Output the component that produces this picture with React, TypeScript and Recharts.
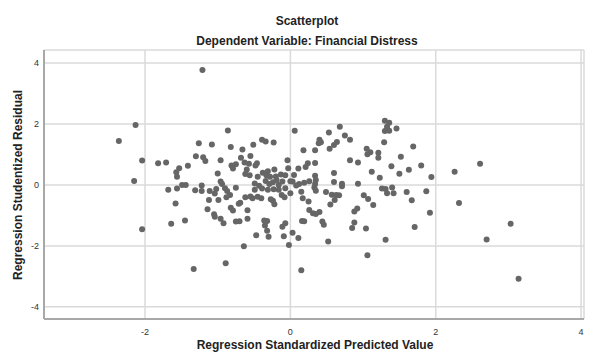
import { ScatterChart, Scatter, XAxis, YAxis, CartesianGrid } from "recharts";

const xTicks = [-2, 0, 2, 4];
const yTicks = [-4, -2, 0, 2, 4];

// cases with negative predicted values (left half of the cloud)
const predictedLeft = [
  -0.86, -1.26, -1.08, -0.82, -0.51, -0.39, -0.34, -0.23, -0.66, -1.3,
  -1.2, -1.17, -0.96, -0.68, -0.55, -2.04, -1.82, -1.71, -1.41, -1.53,
  -1.57, -1.56, -0.81, -0.75, -0.79, -0.63, -0.57, -0.46, -0.48, -0.6,
  -0.62, -0.56, -1.0, -0.04, -0.03, -0.38, -0.31, -0.22, -0.33, -0.28,
  -0.45, -0.2, -0.13, -0.07, -0.96, -0.94, -1.49, -1.44, -1.56, -1.68,
  -1.31, -1.22, -1.22, -1.11, -1.02, -0.9, -0.87, -0.75, -0.49, -0.43,
  -0.34, -0.29, -0.24, -0.19, -0.16, -0.11, 0.0, -0.49, -0.39, -0.31,
  -0.23, -0.16, -0.07, -0.08, -0.12, -0.83, -0.88, -1.04, -1.12, -0.99,
  -1.58, -0.69, -0.71, -0.62, -0.55, -0.45, -0.52, -0.4, -0.27, -0.22,
  -0.24, -0.82, -0.79, -1.14, -1.05, -1.04, -0.59, -0.96, -0.92, -0.75,
  -0.7, -0.59, -1.64, -1.45, -0.36, -0.32, -0.35, -0.32, -0.07, -0.11,
  -0.47, -0.3, -0.09, -0.02, -0.64, -2.04,
];
const residualLeft = [
  1.79, 1.37, 1.33, 1.25, 1.32, 1.48, 1.43, 1.39, 1.16, 0.94,
  0.91, 0.79, 0.81, 0.89, 0.95, 0.8, 0.71, 0.74, 0.63, 0.55,
  0.42, 0.27, 0.64, 0.68, 0.54, 0.74, 0.7, 0.71, 0.64, 0.51,
  0.36, 0.32, 0.38, 0.81, 0.55, 0.4, 0.45, 0.51, 0.32, 0.27,
  0.27, 0.28, 0.34, 0.32, 0.11, 0.03, 0.0, 0.0, -0.12, -0.16,
  -0.17, -0.02, -0.2, -0.2, -0.13, -0.11, -0.2, -0.09, 0.05, -0.03,
  0.13, 0.03, 0.09, 0.16, 0.0, 0.11, 0.12, -0.16, -0.12, -0.16,
  -0.14, -0.16, -0.11, -0.4, -0.33, -0.33, -0.4, -0.28, -0.49, -0.49,
  -0.61, -0.58, -0.62, -0.4, -0.38, -0.39, -0.44, -0.44, -0.47, -0.63,
  -0.52, -0.75, -0.84, -0.8, -0.96, -1.04, -0.83, -1.11, -1.26, -1.2,
  -1.19, -1.11, -1.27, -1.17, -1.17, -1.18, -1.33, -1.5, -1.26, -1.37,
  -1.65, -1.7, -1.68, -1.97, -2.01, -1.45,
];

// cases with positive predicted values (right half)
const predictedRight = [
  1.3, 1.36, 1.33, 1.3, 1.36, 1.46, 0.68, 0.53, 0.06, 0.75,
  0.82, 0.4, 0.39, 0.42, 0.64, 0.6, 0.54, 0.34, 0.18, 1.05,
  1.1, 1.06, 1.21, 1.21, 1.29, 1.69, 1.52, 0.82, 0.93, 0.34,
  0.24, 0.21, 0.11, 0.05, 0.03, 0.08, 0.12, 0.19, 0.26, 0.34,
  0.35, 0.34, 0.33, 0.35, 0.6, 0.6, 0.71, 0.71, 0.93, 1.12,
  1.23, 1.39, 1.5, 1.63, 1.8, 1.94, 0.0, 0.15, 0.17, 0.25,
  0.49, 0.57, 0.63, 0.67, 0.61, 0.55, 1.26, 1.31, 1.33, 1.4,
  1.42, 1.6, 1.67, 1.87, 1.01, 1.07, 1.14, 0.92, 0.88, 0.26,
  0.31, 0.35, 0.4, 0.16, 0.19, 0.44, 0.46, 0.88, 0.85, 1.04,
  1.71, 1.92, 0.03, 0.11, 0.52, 1.31, 1.06,
];
const residualRight = [
  2.11, 2.04, 1.91, 1.77, 1.78, 1.85, 1.91, 1.72, 1.78, 1.62,
  1.48, 1.48, 1.37, 1.4, 1.41, 1.31, 1.19, 1.14, 1.14, 1.19,
  1.07, 1.01, 1.06, 0.89, 1.4, 1.26, 0.93, 0.81, 0.74, 0.72,
  0.71, 0.59, 0.54, 0.33, 0.11, -0.02, 0.03, 0.07, 0.12, 0.3,
  0.16, 0.03, -0.08, -0.19, 0.39, 0.1, 0.04, -0.04, 0.04, 0.43,
  0.24, 0.61, 0.37, 0.5, 0.64, 0.26, -0.27, -0.22, -0.44, -0.54,
  -0.23, -0.32, -0.33, -0.34, -0.49, -0.64, -0.12, -0.13, -0.27, -0.08,
  -0.27, -0.23, -0.5, -0.21, -0.34, -0.46, -0.66, -0.77, -0.87, -0.82,
  -0.93, -0.95, -0.89, -1.18, -1.19, -1.2, -1.31, -1.23, -1.41, -1.43,
  -1.38, -0.91, -1.57, -1.74, -1.86, -1.8, -2.31,
];

// stragglers away from the main cloud
const predictedOuter = [-1.21, -2.13, -2.36, -2.15, -1.33, -0.89, 0.15, 2.26, 2.61, 2.32, 3.03, 2.7, 3.14];
const residualOuter = [3.77, 1.97, 1.44, 0.13, -2.76, -2.57, -2.8, 0.43, 0.7, -0.59, -1.27, -1.79, -3.08];

const zip = (xs: number[], ys: number[]) => xs.map((x, i) => ({ x, y: ys[i] }));
const points = [
  ...zip(predictedLeft, residualLeft),
  ...zip(predictedRight, residualRight),
  ...zip(predictedOuter, residualOuter),
];

const font = '"Liberation Sans", Arial, sans-serif';
const tickStyle = { fontSize: 9, fill: "#333", fontFamily: font };
const axisLine = { stroke: "#a8a8a8", strokeWidth: 2 };

const Dot = (props: any) => <circle cx={props.cx} cy={props.cy} r={3} fill="#666666" />;

export default function App() {
  return (
    <div
      style={{
        position: "absolute",
        left: 0,
        top: 0,
        width: 595,
        height: 354,
        overflow: "hidden",
        background: "#fff",
        fontFamily: font,
        color: "#222",
      }}
    >
      <ScatterChart width={595} height={354} margin={{ top: 50, right: 11, bottom: 0, left: 0 }}>
        <CartesianGrid stroke="#dadada" strokeWidth={1.5} />
        <XAxis
          type="number"
          dataKey="x"
          domain={[-3.39, 4.04]}
          ticks={xTicks}
          allowDataOverflow
          height={35}
          tickLine={false}
          tickSize={0}
          tickMargin={10}
          axisLine={axisLine}
          tick={tickStyle}
        />
        <YAxis
          type="number"
          dataKey="y"
          domain={[-4.4, 4.43]}
          ticks={yTicks}
          allowDataOverflow
          width={44}
          tickLine={false}
          tickSize={0}
          tickMargin={5}
          axisLine={axisLine}
          tick={tickStyle}
        />
        <Scatter data={points} shape={Dot} isAnimationActive={false} />
      </ScatterChart>

      <div style={{ position: "absolute", top: 14, left: 0, width: 614, textAlign: "center", fontSize: 12, fontWeight: "bold" }}>
        Scatterplot
      </div>
      <div style={{ position: "absolute", top: 34, left: 0, width: 614, textAlign: "center", fontSize: 12, fontWeight: "bold" }}>
        Dependent Variable: Financial Distress
      </div>
      <div style={{ position: "absolute", top: 338, left: 0, width: 630, textAlign: "center", fontSize: 12, fontWeight: "bold" }}>
        Regression Standardized Predicted Value
      </div>
      <div
        style={{
          position: "absolute",
          left: 18,
          top: 185,
          transform: "translate(-50%, -50%) rotate(-90deg)",
          whiteSpace: "nowrap",
          fontSize: 12,
          fontWeight: "bold",
        }}
      >
        Regression Studentized Residual
      </div>
    </div>
  );
}
